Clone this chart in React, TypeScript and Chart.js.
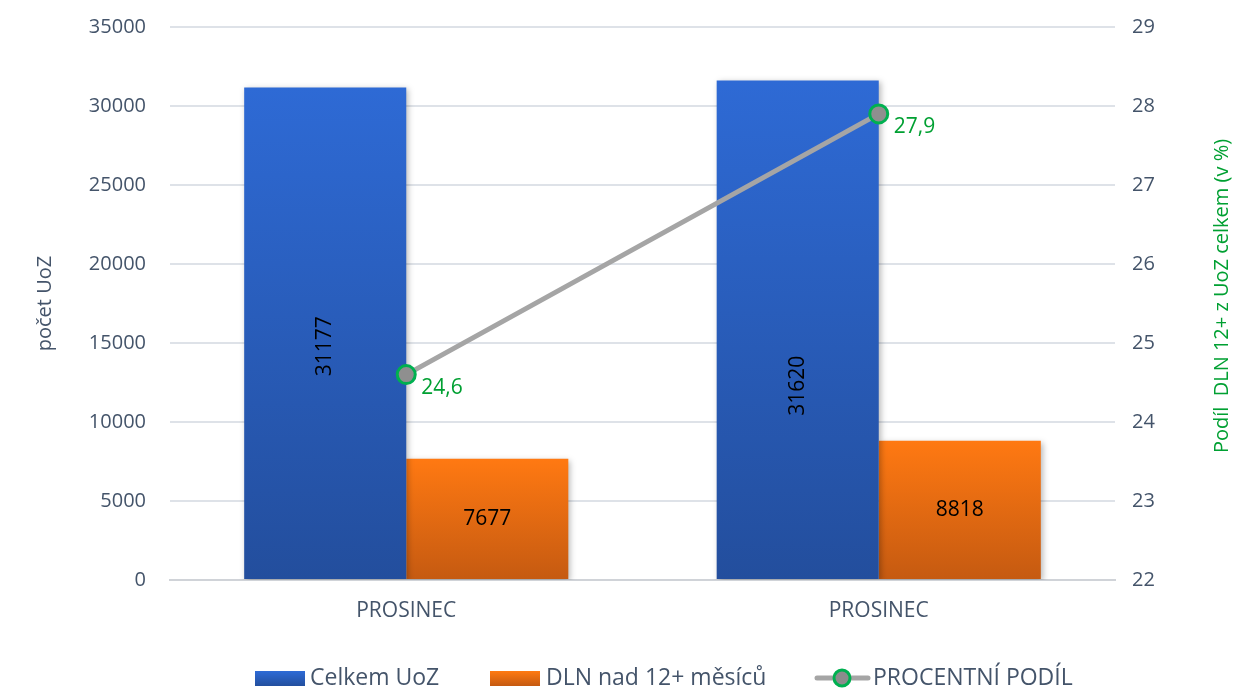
import React, { useEffect, useRef } from "react";
import { Chart, registerables } from "chart.js";

Chart.register(...registerables);

const categories = ["PROSINEC", "PROSINEC"];
const celkemUoZ = [31177, 31620];
const dln12 = [7677, 8818];
const procentniPodil = [24.6, 27.9];
const seriesNames = ["Celkem UoZ", "DLN nad 12+ měsíců", "PROCENTNÍ PODÍL"];
const leftTitle = "počet UoZ";
const rightTitle = "Podíl  DLN 12+ z UoZ celkem (v %)";

const FONT = "'Open Sans', sans-serif";
const TICK_COLOR = "#44546A";
const GREEN = "#00A032";

function barGradient(ctx: any, top: string, bottom: string) {
  const chart = ctx.chart;
  const ca = chart.chartArea;
  if (!ca) return top;
  const ys = chart.scales.y;
  const v = ctx.raw as number;
  const yTop = ys.getPixelForValue(v);
  const yBase = ys.getPixelForValue(0);
  const g = chart.ctx.createLinearGradient(0, yTop, 0, yBase);
  g.addColorStop(0, top);
  g.addColorStop(1, bottom);
  return g;
}

const shadowPlugin = {
  id: "barShadow",
  beforeDatasetDraw(chart: any, args: any) {
    const ds = chart.data.datasets[args.index];
    const ctx = chart.ctx;
    ctx.save();
    if (ds.type === "bar") {
      ctx.shadowColor = "rgba(0,0,0,0.28)";
      ctx.shadowBlur = 6;
      ctx.shadowOffsetX = 2;
      ctx.shadowOffsetY = 2;
    }
  },
  afterDatasetDraw(chart: any) {
    chart.ctx.restore();
  },
};

const labelsPlugin = {
  id: "valueLabels",
  afterDatasetsDraw(chart: any) {
    const ctx = chart.ctx;
    ctx.save();
    const m0 = chart.getDatasetMeta(0);
    const blueOffsets = [13, 56];
    m0.data.forEach((el: any, i: number) => {
      const cx = el.x;
      const cy = (el.y + el.base) / 2 + blueOffsets[i];
      ctx.save();
      ctx.translate(cx, cy);
      ctx.rotate(-Math.PI / 2);
      ctx.font = `21px ${FONT}`;
      ctx.fillStyle = "#000";
      ctx.textAlign = "center";
      ctx.textBaseline = "middle";
      ctx.fillText(String(celkemUoZ[i]), 0, 0);
      ctx.restore();
    });
    const m1 = chart.getDatasetMeta(1);
    m1.data.forEach((el: any, i: number) => {
      ctx.font = `21px ${FONT}`;
      ctx.fillStyle = "#000";
      ctx.textAlign = "center";
      ctx.textBaseline = "middle";
      ctx.fillText(String(dln12[i]), el.x, (el.y + el.base) / 2);
    });
    const m2 = chart.getDatasetMeta(2);
    m2.data.forEach((el: any, i: number) => {
      ctx.font = `21px ${FONT}`;
      ctx.fillStyle = GREEN;
      ctx.textAlign = "left";
      ctx.textBaseline = "middle";
      ctx.fillText(String(procentniPodil[i]).replace(".", ","), el.x + 15, el.y + 13);
    });
    ctx.restore();
  },
};

const rightTitlePlugin = {
  id: "rightTitle",
  afterDraw(chart: any) {
    const ctx = chart.ctx;
    ctx.save();
    ctx.translate(1222, 296);
    ctx.rotate(-Math.PI / 2);
    ctx.font = `20px ${FONT}`;
    ctx.fillStyle = GREEN;
    ctx.textAlign = "center";
    ctx.textBaseline = "middle";
    ctx.fillText(rightTitle, 0, 0);
    ctx.restore();
  },
};

const legendPlugin = {
  id: "customLegend",
  afterDraw(chart: any) {
    const ctx = chart.ctx;
    const yc = 678;
    ctx.save();
    ctx.font = `23px ${FONT}`;
    ctx.textBaseline = "middle";
    ctx.textAlign = "left";
    let g = ctx.createLinearGradient(0, yc - 7, 0, yc + 8);
    g.addColorStop(0, "#2E6BD6");
    g.addColorStop(1, "#234F9E");
    ctx.fillStyle = g;
    ctx.fillRect(255, yc - 7, 50, 15);
    ctx.fillStyle = TICK_COLOR;
    ctx.fillText(seriesNames[0], 310, yc);
    g = ctx.createLinearGradient(0, yc - 7, 0, yc + 8);
    g.addColorStop(0, "#FF7A12");
    g.addColorStop(1, "#C55A11");
    ctx.fillStyle = g;
    ctx.fillRect(490, yc - 7, 50, 15);
    ctx.fillStyle = TICK_COLOR;
    ctx.fillText(seriesNames[1], 546, yc);
    ctx.strokeStyle = "#A5A5A5";
    ctx.lineWidth = 5;
    ctx.lineCap = "round";
    ctx.beginPath();
    ctx.moveTo(817, yc);
    ctx.lineTo(868, yc);
    ctx.stroke();
    ctx.beginPath();
    ctx.arc(842, yc, 8, 0, Math.PI * 2);
    ctx.fillStyle = "#8C8C8C";
    ctx.fill();
    ctx.lineWidth = 3;
    ctx.strokeStyle = "#00B050";
    ctx.stroke();
    ctx.fillStyle = TICK_COLOR;
    ctx.fillText(seriesNames[2], 873, yc);
    ctx.restore();
  },
};

export default function App() {
  const canvasRef = useRef<HTMLCanvasElement | null>(null);

  useEffect(() => {
    const canvas = canvasRef.current;
    if (!canvas) return;
    const chart = new Chart(canvas, {
      type: "bar",
      data: {
        labels: categories,
        datasets: [
          {
            type: "bar",
            label: seriesNames[0],
            data: celkemUoZ,
            yAxisID: "y",
            backgroundColor: (c: any) => barGradient(c, "#2E6AD5", "#234E9D"),
            borderWidth: 0,
            categoryPercentage: 0.686,
            barPercentage: 1,
            order: 2,
          },
          {
            type: "bar",
            label: seriesNames[1],
            data: dln12,
            yAxisID: "y",
            backgroundColor: (c: any) => barGradient(c, "#FF7912", "#C55A11"),
            borderWidth: 0,
            categoryPercentage: 0.686,
            barPercentage: 1,
            order: 2,
          },
          {
            type: "line",
            label: seriesNames[2],
            data: procentniPodil,
            yAxisID: "y1",
            borderColor: "#A5A5A5",
            borderWidth: 5,
            pointRadius: 9,
            pointHoverRadius: 9,
            pointBackgroundColor: "#8F8F8F",
            pointBorderColor: "#00B050",
            pointBorderWidth: 3,
            order: 1,
          } as any,
        ],
      },
      options: {
        animation: false,
        responsive: false,
        maintainAspectRatio: false,
        layout: { padding: { top: 27, left: 0, right: 0, bottom: 0 } },
        plugins: {
          legend: { display: false },
          tooltip: { enabled: false },
        },
        scales: {
          x: {
            grid: { display: false, drawTicks: false },
            border: { display: true, color: "#D0D3D8", width: 2 },
            ticks: {
              color: "#44546A",
              font: { family: FONT, size: 21 },
              padding: 18,
            },
            afterFit: (s: any) => {
              s.height = 109;
            },
          },
          y: {
            position: "left",
            min: 0,
            max: 35000,
            ticks: {
              stepSize: 5000,
              color: TICK_COLOR,
              font: { family: FONT, size: 20 },
              padding: 24,
              callback: (v: any) => String(v),
            },
            grid: { color: "#DEE2E8", lineWidth: 2, drawTicks: false },
            border: { display: false },
            title: {
              display: true,
              text: leftTitle,
              color: TICK_COLOR,
              font: { family: FONT, size: 20 },
              padding: { top: 33, bottom: 0 },
            },
            afterFit: (s: any) => {
              s.width = 170;
              s.paddingTop = 0;
              s.paddingBottom = 0;
            },
          },
          y1: {
            position: "right",
            min: 22,
            max: 29,
            ticks: {
              stepSize: 1,
              color: TICK_COLOR,
              font: { family: FONT, size: 20 },
              padding: 17,
            },
            grid: { display: false, drawTicks: false },
            border: { display: false },
            afterFit: (s: any) => {
              s.width = 121;
              s.paddingTop = 0;
              s.paddingBottom = 0;
            },
          },
        },
      },
      plugins: [shadowPlugin, labelsPlugin, rightTitlePlugin, legendPlugin],
    });
    return () => chart.destroy();
  }, []);

  return (
    <div style={{ position: "absolute", left: 0, top: 0, width: 1236, height: 689, background: "#fff" }}>
      <canvas ref={canvasRef} width={1236} height={689} style={{ display: "block" }} />
    </div>
  );
}
